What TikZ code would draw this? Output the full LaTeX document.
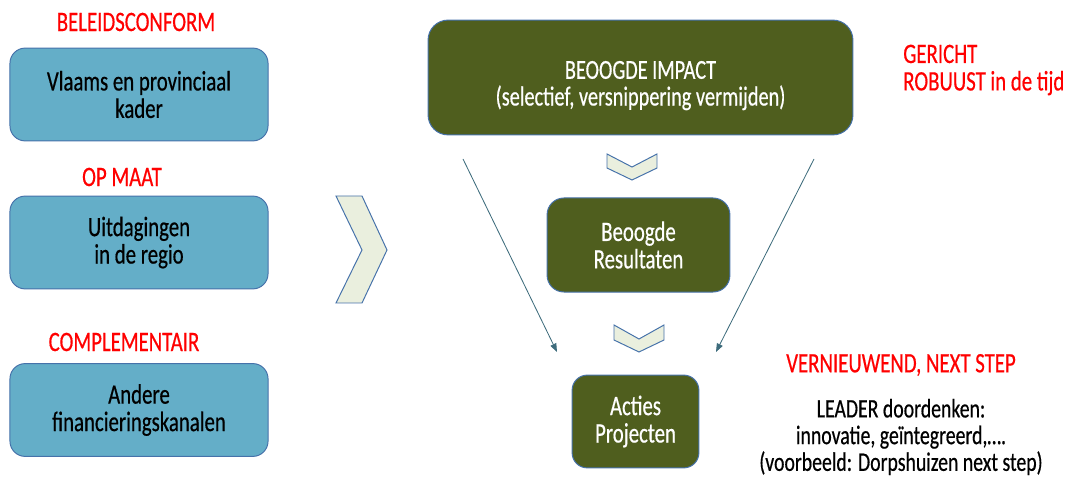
\documentclass[tikz,border=0pt]{standalone}
\usepackage{fontspec}
\setmainfont{Carlito}[FakeStretch=0.74,FakeBold=0.5]
\usepackage{tikz}
\usetikzlibrary{arrows.meta}

\definecolor{boxblue}{RGB}{100,174,200}
\definecolor{edgeblue}{RGB}{70,114,170}
\definecolor{boxgreen}{RGB}{79,94,30}
\definecolor{chevfill}{RGB}{234,239,222}
\definecolor{arrowteal}{RGB}{62,108,124}

\tikzset{
  txt/.style={font=\fontsize{20}{19.5}\selectfont, align=center, inner sep=0pt},
  redtxt/.style={txt, text=red},
  bluebox/.style={txt, draw=edgeblue, fill=boxblue, line width=0.7pt,
    rounded corners=0.38cm, minimum width=6.45cm, minimum height=2.32cm},
  greenbox/.style={txt, draw=edgeblue, fill=boxgreen, text=white, line width=0.7pt},
  chev/.style={draw=edgeblue, fill=chevfill, line width=0.7pt},
  slant/.style={arrowteal, line width=0.6pt, -{Triangle[length=6pt,width=4.5pt]}}
}

\begin{document}
\begin{tikzpicture}[x=0.025cm, y=-0.025cm]
\useasboundingbox (0,0) rectangle (1073,477);

% left column
\node[redtxt] (lblpolicy) at (136,22) {BELEIDSCONFORM};
\node[bluebox] (kader) at (139,94.5) {Vlaams en provinciaal\\kader};

\node[redtxt] (lblfit) at (122,177) {OP MAAT};
\node[bluebox] (regio) at (139,242.5) {Uitdagingen\\in de regio};

\node[redtxt] (lblcompl) at (124,342) {COMPLEMENTAIR};
\node[bluebox] (kanalen) at (139,410) {Andere\\financieringskanalen};

% big chevron
\draw[chev] (336,196) -- (362,196) -- (387,250) -- (362,303) -- (336,303) -- (362,250) -- cycle;

% funnel
\node[greenbox, rounded corners=0.5cm, minimum width=10.62cm, minimum height=2.87cm,
  font=\fontsize{19.5}{19}\selectfont]
  (impact) at (640.5,77.5) {\rule{0pt}{0.85cm}BEOOGDE IMPACT\\(selectief, versnippering vermijden)};
\node[greenbox, rounded corners=0.42cm, minimum width=4.57cm, minimum height=2.35cm]
  (result) at (638.5,245) {Beoogde\\Resultaten};
\node[greenbox, rounded corners=0.38cm, minimum width=3.17cm, minimum height=2.32cm]
  (acties) at (635.5,421.5) {Acties\\Projecten};

\draw[chev] (607,154) -- (632,167) -- (657,154) -- (657,168) -- (632,180) -- (607,168) -- cycle;
\draw[chev] (614,325) -- (639,339) -- (664,325) -- (664,340) -- (639,352) -- (614,340) -- cycle;

\coordinate (lefttop) at (463,159);
\coordinate (leftend) at (557,352);
\coordinate (righttop) at (814,159);
\coordinate (rightend) at (716,352);
\draw[slant] (lefttop) -- (leftend);
\draw[slant] (righttop) -- (rightend);

% right column
\node[redtxt, align=left, anchor=west] (lbltarget) at (903,70) {GERICHT\\ROBUUST in de tijd};
\node[redtxt] (lblnew) at (901,365) {VERNIEUWEND, NEXT STEP};
\node[txt, font=\fontsize{19}{19}\selectfont] (leader) at (901,437)
  {LEADER doordenken:\\innovatie, geïntegreerd,\ldots.\\(voorbeeld: Dorpshuizen next step)};
\end{tikzpicture}
\end{document}
